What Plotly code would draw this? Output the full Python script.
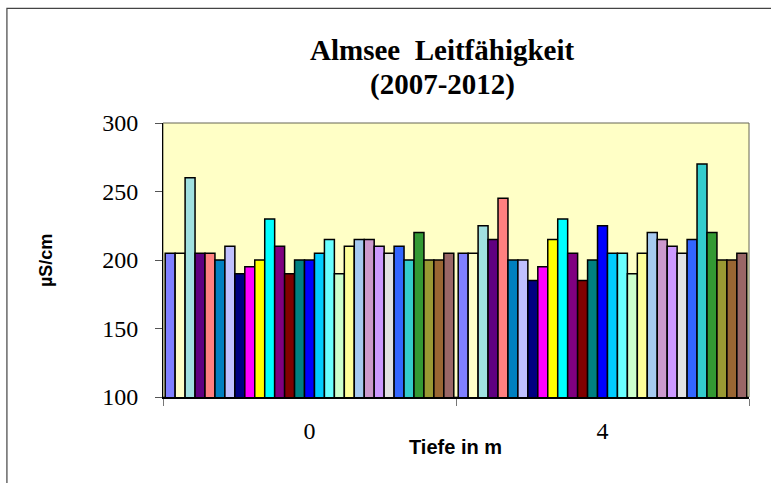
import plotly.graph_objects as go

# Depth categories (m)
depths = ["0", "4"]

# Conductivity per measurement series (µS/cm), one value per depth
values_0m = [205, 205, 260, 205, 205, 200, 210, 190, 195, 200, 230, 210, 190, 200, 200,
             205, 215, 190, 210, 215, 215, 210, 205, 210, 200, 220, 200, 200, 205]
values_4m = [205, 205, 225, 215, 245, 200, 200, 185, 195, 215, 230, 205, 185, 200, 225,
             205, 205, 190, 205, 220, 215, 210, 205, 215, 270, 220, 200, 200, 205]

series_colors = [
    "#8080FF", "#FFFFC8", "#A0E0E0", "#600080", "#FF8080", "#0080C0", "#C0C0FF", "#000080",
    "#FF00FF", "#FFFF00", "#00FFFF", "#800080", "#800000", "#008080", "#0000FF", "#00CCFF",
    "#69FFFF", "#CCFFCC", "#FFFF99", "#A6CAF0", "#CC99CC", "#CC99FF", "#E3E3E3", "#3366FF",
    "#33CCCC", "#339933", "#999933", "#996633", "#996666",
]

title_lines = ["Almsee  Leitfähigkeit", "(2007-2012)"]

fig = go.Figure()
for i, color in enumerate(series_colors):
    fig.add_trace(go.Bar(
        x=depths,
        y=[values_0m[i], values_4m[i]],
        marker=dict(color=color, line=dict(color="black", width=1.5)),
        showlegend=False,
        hoverinfo="y",
    ))

serif = "Liberation Serif, Times New Roman, serif"
sans = "Liberation Sans, Arial, sans-serif"

# plot area in pixels: x 163..748.7, y 122.7..397
px_w, px_h = 585.7, 274.3


def px_to_paper(xp, yp):
    return (xp - 163) / px_w, (397 - yp) / px_h


annotations = []
for line, ypix in zip(title_lines, [50, 84]):
    xx, yy = px_to_paper(442, ypix)
    annotations.append(dict(text=f"<b>{line}</b>", xref="paper", yref="paper",
                            x=xx, y=yy, xanchor="center", yanchor="middle", showarrow=False,
                            font=dict(family=serif, size=29, color="black")))

xx, yy = px_to_paper(46, 260)
annotations.append(dict(text="<b>µS/cm</b>", xref="paper", yref="paper", x=xx, y=yy,
                        textangle=-90, xanchor="center", yanchor="middle", showarrow=False,
                        font=dict(family=sans, size=18, color="black")))
xx, yy = px_to_paper(455, 447)
annotations.append(dict(text="<b>Tiefe in m</b>", xref="paper", yref="paper", x=xx, y=yy,
                        xanchor="center", yanchor="middle", showarrow=False,
                        font=dict(family=sans, size=20, color="black")))

bx0, by1 = px_to_paper(7, 8)

fig.update_layout(
    width=771, height=483,
    margin=dict(l=163, r=22, t=123, b=86),
    paper_bgcolor="white",
    plot_bgcolor="#FFFFC6",
    barmode="group",
    bargap=0.015,
    bargroupgap=0,
    xaxis=dict(
        type="category",
        tickson="boundaries",
        ticks="outside", ticklen=7, tickcolor="#777777",
        showline=True, linecolor="black", linewidth=2,
        showgrid=False,
        tickfont=dict(family=serif, size=24, color="black"),
        ticklabelstandoff=11,
    ),
    yaxis=dict(
        range=[100, 300],
        tickvals=[100, 150, 200, 250, 300],
        ticks="outside", ticklen=7, tickcolor="#555555",
        showline=True, linecolor="black", linewidth=1,
        showgrid=False, zeroline=False,
        tickfont=dict(family=serif, size=24, color="black"),
        ticklabelstandoff=12,
    ),
    shapes=[
        # plot area frame
        dict(type="rect", xref="paper", yref="paper", x0=0, x1=1, y0=0, y1=1,
             line=dict(color="#666655", width=1), layer="below"),
        # chart border
        dict(type="rect", xref="paper", yref="paper", x0=bx0, x1=1.2, y0=-0.6, y1=by1,
             line=dict(color="#444444", width=1.2)),
    ],
    annotations=annotations,
)

fig.write_html("out.html")
